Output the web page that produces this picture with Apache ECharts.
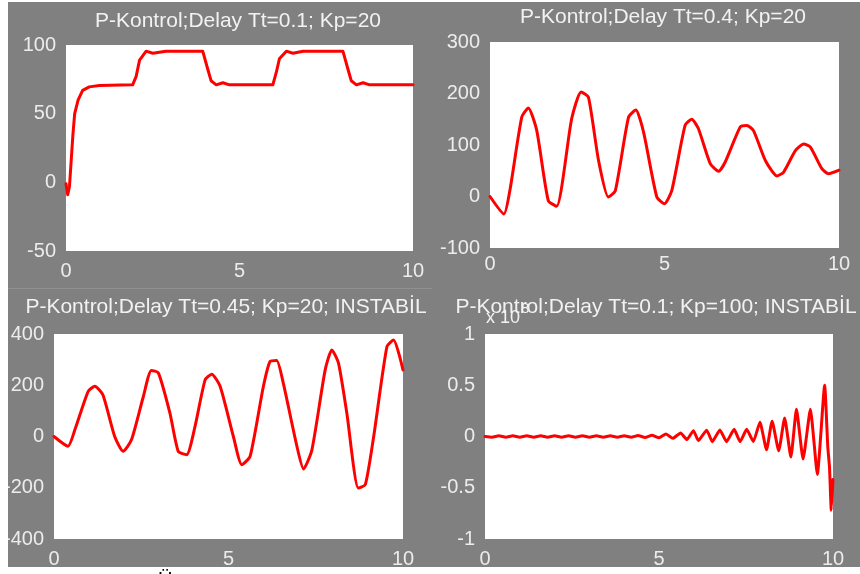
<!DOCTYPE html>
<html>
<head>
<meta charset="utf-8">
<script src="https://cdn.jsdelivr.net/npm/echarts@6/dist/echarts.min.js"></script>
<style>
html, body { margin: 0; padding: 0; background: #fff; }
#chart { width: 860px; height: 574px; }
</style>
</head>
<body>
<div id="chart"></div>
<script>
// Tt=0.1, Kp=20
var t1 = [0, 0.05, 0.1, 0.15, 0.2, 0.25, 0.35, 0.48, 0.67, 0.96, 1.92, 2.02, 2.12, 2.31, 2.5, 2.88, 3.94, 4.09, 4.18, 4.33,
  4.52, 4.71, 5.96, 6.06, 6.15, 6.35, 6.54, 6.83, 7.98, 8.13, 8.22, 8.37, 8.56, 8.75, 10];
var v1 = [-1, -9, -3, 16, 35, 50, 60, 67, 69.5, 70.5, 71, 77, 89, 95.5, 94, 95.5, 95.5, 82, 74, 71,
  72.5, 71, 71, 80, 90, 95.5, 94, 95.5, 95.5, 82, 74, 71, 72.5, 71, 71];

// Tt=0.4, Kp=20
var t2 = [0, 0.4, 0.57, 0.91, 1.1, 1.34, 1.67, 1.91, 2.34, 2.61, 2.82, 3.11, 3.39, 3.59, 3.97, 4.18, 4.4, 4.78, 5.0, 5.21,
  5.59, 5.78, 5.97, 6.31, 6.55, 6.74, 7.17, 7.36, 7.55, 7.89, 8.22, 8.41, 8.75, 8.99, 9.18, 9.51, 9.7, 10];
var v2 = [0, -34, 12, 154, 172, 128, -8, -19, 151, 203, 193, 70, -1, 11, 154, 168, 125, -1, -14, 12,
  138, 150, 132, 64, 49, 67, 135, 138, 128, 70, 40, 47, 89, 102, 96, 54, 44, 51];

// Tt=0.45, Kp=20
var t3 = [0, 0.4, 0.6, 0.98, 1.17, 1.4, 1.74, 1.98, 2.22, 2.56, 2.79, 2.99, 3.32, 3.56, 3.8, 4.04, 4.33, 4.52, 4.76, 5.14,
  5.38, 5.62, 6.0, 6.19, 6.38, 6.57, 6.96, 7.15, 7.39, 7.77, 7.96, 8.15, 8.39, 8.72, 8.92, 9.16, 9.54, 9.73, 10];
var v3 = [0, -38, 27, 176, 196, 163, 0, -58, -13, 156, 258, 248, 92, -58, -71, 39, 221, 243, 196, 0,
  -110, -77, 196, 293, 297, 208, -38, -127, -52, 260, 338, 287, 92, -201, -188, 0, 351, 377, 260];

// Tt=0.1, Kp=100 (values in units of 1e8)
var t4 = [0, 0.2, 0.4, 0.6, 0.8, 1.0, 1.2, 1.4, 1.6, 1.8, 2.0, 2.2, 2.4, 2.6, 2.8, 3.0, 3.2, 3.4, 3.6, 3.8,
  4.0, 4.2, 4.4, 4.6, 4.8, 5.0, 5.2, 5.4, 5.62, 5.8, 5.99, 6.13, 6.37, 6.53, 6.75, 6.94, 7.16, 7.33, 7.52, 7.71,
  7.9, 8.09, 8.25, 8.44, 8.61, 8.79, 8.95, 9.14, 9.35, 9.55, 9.76, 9.85, 9.9, 9.95, 10];
var v4 = [0, -0.007, 0.007, -0.007, 0.007, -0.007, 0.007, -0.007, 0.007, -0.007, 0.007, -0.007, 0.007, -0.007, 0.007, -0.007, 0.007, -0.007, 0.007, -0.007,
  0.007, -0.007, 0.009, -0.009, 0.012, -0.012, 0.025, -0.018, 0.035, -0.03, 0.057, -0.04, 0.062, -0.05, 0.063, -0.05, 0.07, -0.05, 0.07, -0.05,
  0.14, -0.13, 0.15, -0.14, 0.18, -0.2, 0.265, -0.22, 0.265, -0.37, 0.5, -0.1, -0.3, -0.72, -0.42];

var titles = [
  'P-Kontrol;Delay Tt=0.1; Kp=20',
  'P-Kontrol;Delay Tt=0.4; Kp=20',
  'P-Kontrol;Delay Tt=0.45; Kp=20; INSTABİL',
  'P-Kontrol;Delay Tt=0.1; Kp=100; INSTABİL'
];
var yMin = [-50, -100, -400, -1];
var yMax = [100, 300, 400, 1];
var yStep = [50, 100, 200, 0.5];

var grids = [
  { left: 66, top: 45, width: 347, height: 206 },
  { left: 490, top: 42, width: 349, height: 206 },
  { left: 54, top: 334, width: 349, height: 205 },
  { left: 485, top: 334, width: 348, height: 205 }
];
var titleTop = [11, 7, 297, 297];
var titleX = [238, 663, 226, 656];
var xLabelMargin = [10, 6, 10, 10];
var smoothness = [0, 0.2, 0.2, 0.15];

function zip(t, v) {
  return t.map(function(x, i) { return [x, v[i]]; });
}
var seriesData = [zip(t1, v1), zip(t2, v2), zip(t3, v3), zip(t4, v4)];

var FONT = 'Liberation Sans, Arial, sans-serif';
var LABEL = '#ececec';

var option = {
  backgroundColor: '#808080',
  animation: false,
  title: titles.map(function(txt, i) {
    return {
      text: txt, left: titleX[i], top: titleTop[i], textAlign: 'center', padding: 0,
      textStyle: { color: '#f2f2f2', fontSize: 21, fontWeight: 'normal', fontFamily: FONT }
    };
  }).concat([
    { text: 'x 10', left: 486, top: 309, padding: 0,
      textStyle: { color: '#f2f2f2', fontSize: 18, fontWeight: 'normal', fontFamily: FONT } },
    { text: '8', left: 521, top: 301, padding: 0,
      textStyle: { color: '#f2f2f2', fontSize: 15, fontWeight: 'normal', fontFamily: FONT } }
  ]),
  grid: grids.map(function(g) {
    return { left: g.left, top: g.top, width: g.width, height: g.height, show: true, backgroundColor: '#ffffff', borderWidth: 0 };
  }),
  xAxis: grids.map(function(g, i) {
    return {
      type: 'value', gridIndex: i, min: 0, max: 10, interval: 5,
      axisLine: { show: false }, axisTick: { show: false }, splitLine: { show: false },
      axisLabel: { color: LABEL, fontSize: 20, fontFamily: FONT, margin: xLabelMargin[i] }
    };
  }),
  yAxis: grids.map(function(g, i) {
    return {
      type: 'value', gridIndex: i, min: yMin[i], max: yMax[i], interval: yStep[i],
      axisLine: { show: false }, axisTick: { show: false }, splitLine: { show: false },
      axisLabel: { color: LABEL, fontSize: 20, fontFamily: FONT, margin: 10 }
    };
  }),
  series: seriesData.map(function(d, i) {
    return {
      type: 'line', xAxisIndex: i, yAxisIndex: i, data: d, showSymbol: false, smooth: smoothness[i],
      lineStyle: { color: '#ff0000', width: 3, join: 'round', cap: 'round' }
    };
  }),
  graphic: [
    { type: 'line', z: 50, shape: { x1: 8, y1: 288.5, x2: 432, y2: 288.5 }, style: { stroke: '#909090', lineWidth: 1 } },
    { type: 'rect', z: 100, shape: { x: 0, y: 0, width: 8, height: 574 }, style: { fill: '#ffffff' } },
    { type: 'rect', z: 100, shape: { x: 0, y: 0, width: 860, height: 2 }, style: { fill: '#ffffff' } },
    { type: 'rect', z: 100, shape: { x: 0, y: 567, width: 860, height: 7 }, style: { fill: '#ffffff' } },
    { type: 'text', z: 101, x: 158, y: 570, style: { text: 'Ü', fill: '#000000', font: '20px Liberation Sans' } }
  ]
};

var chart = echarts.init(document.getElementById('chart'));
chart.setOption(option);
window.addEventListener('resize', function() { chart.resize(); });
</script>
</body>
</html>
